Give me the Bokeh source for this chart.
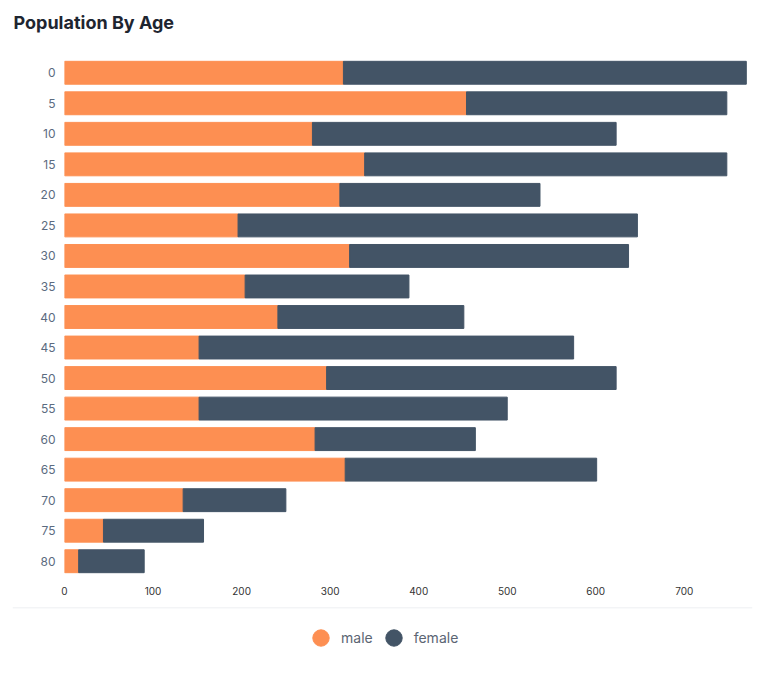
from bokeh.plotting import figure
from bokeh.models import FactorRange, Range1d, ColumnDataSource, Legend, LegendItem, Span, FixedTicker
from bokeh.core.properties import value
from bokeh.layouts import column
from bokeh.embed import file_html
from bokeh.resources import INLINE

title_text = "Population By Age"
ages = ["0", "5", "10", "15", "20", "25", "30", "35", "40", "45", "50", "55", "60", "65", "70", "75", "80"]
male = [315, 454, 280, 339, 311, 196, 322, 204, 241, 152, 296, 152, 283, 317, 134, 44, 16]
female = [455, 294, 343, 409, 226, 451, 315, 185, 210, 423, 327, 348, 181, 284, 116, 113, 74]
x_ticks = [0, 100, 200, 300, 400, 500, 600, 700]

ORANGE = "#FD8F52"
SLATE = "#435466"
FONT = "Inter"


def unalign(fig):
    if "frame_align" in fig.properties():
        fig.frame_align = False
        return True
    return False


# title strip
p0 = figure(width=764, height=45, output_backend="svg", toolbar_location=None,
            x_range=Range1d(0, 751), y_range=Range1d(45, 0),
            x_axis_location=None, y_axis_location=None,
            min_border_left=13, min_border_right=0, min_border_top=0, min_border_bottom=0)
unalign(p0)
p0.grid.visible = False
p0.outline_line_color = None
p0.text(x=[0], y=[22], text=[title_text], text_font=value(FONT), text_font_size="18px",
        text_font_style="bold", text_color="#1e2530", text_align="left", text_baseline="middle")

# main chart
source = ColumnDataSource(data=dict(age=ages, male=male, female=female))
p = figure(width=764, height=562, output_backend="svg", toolbar_location=None,
           y_range=FactorRange(factors=list(reversed(ages))),
           x_range=Range1d(0, 777),
           min_border_left=64, min_border_right=12, min_border_top=12, min_border_bottom=31)
p.hbar_stack(["male", "female"], y="age", height=0.75, color=[ORANGE, SLATE], source=source)

p.outline_line_color = None
p.xgrid.grid_line_color = None
p.ygrid.grid_line_color = None
for ax in (p.xaxis[0], p.yaxis[0]):
    ax.axis_line_color = None
    ax.major_tick_line_color = None
    ax.minor_tick_line_color = None
    ax.major_tick_out = 0
    ax.minor_tick_out = 0
    ax.major_label_text_font = FONT
p.xaxis.ticker = FixedTicker(ticks=x_ticks)
p.xaxis.major_label_text_font_size = "10px"
p.xaxis.major_label_text_color = "#333333"
p.xaxis.major_label_standoff = 10
p.yaxis.major_label_text_font_size = "12px"
p.yaxis.major_label_text_color = "#5b6b80"
p.yaxis.major_label_standoff = 9

# legend strip
p2 = figure(width=764, height=60, output_backend="svg", toolbar_location=None,
            x_range=Range1d(0, 1), y_range=Range1d(0, 1),
            x_axis_location=None, y_axis_location=None,
            min_border_left=12, min_border_right=12, min_border_top=0, min_border_bottom=0)
unaligned = unalign(p2)
p2.grid.visible = False
p2.outline_line_color = None
p2.add_layout(Span(location=1, dimension="width", line_color="#e8eaee", line_width=1.5))
hidden = ColumnDataSource(data=dict(x=[-10], y=[-10]))
r_m = p2.scatter("x", "y", source=hidden, size=17, color=ORANGE)
r_f = p2.scatter("x", "y", source=hidden, size=17, color=SLATE)
leg = Legend(items=[LegendItem(label="male", renderers=[r_m]), LegendItem(label="female", renderers=[r_f])],
             location=(288 if unaligned else 237, 9), orientation="horizontal")
leg.label_text_font = FONT
leg.label_text_font_size = "14px"
leg.label_text_color = "#5b6573"
leg.glyph_width = 41
leg.glyph_height = 41
leg.label_standoff = 0
leg.spacing = 0
leg.border_line_color = None
leg.background_fill_alpha = 0
leg.margin = 0
leg.padding = 0
p2.add_layout(leg)

layout = column(p0, p, p2, spacing=0)
open("out.html", "w").write(file_html(layout, INLINE))
